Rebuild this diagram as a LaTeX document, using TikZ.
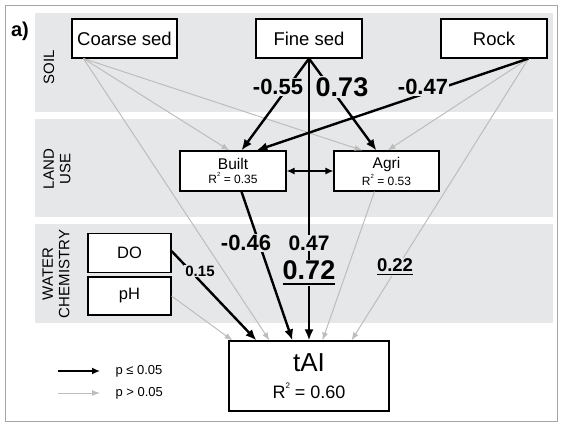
\documentclass[tikz,border=0pt]{standalone}
\usepackage{fontspec}
\setmainfont{Liberation Sans}
\usetikzlibrary{arrows.meta}
\definecolor{bandgray}{HTML}{E6E7E8}
\definecolor{nsgray}{HTML}{BDBDBD}
\definecolor{framegray}{HTML}{A6A6A6}
\newcommand{\fs}[1]{\fontsize{#1}{#1}\selectfont}
\newcommand{\rsq}[1]{R\raisebox{0.55em}{\fontsize{#1}{#1}\selectfont 2}}
\newsavebox{\ulbox}
\newcommand{\ulnum}[2][-4pt]{\sbox\ulbox{#2}\usebox\ulbox\llap{\rule[#1]{\wd\ulbox}{1.7pt}}}

\begin{document}
\begin{tikzpicture}[x=1pt, y=-1pt,
	box/.style={draw, line width=1.1pt, fill=white, inner sep=0pt, align=center},
	sig/.style={line width=2.4pt, -{Latex[length=11pt,width=9pt]}},
	nsig/.style={nsgray, line width=1pt, -{Latex[length=8pt,width=6pt]}},
	coef/.style={fill=bandgray, inner sep=1pt}]
	\useasboundingbox (0,0) rectangle (562,426);
	\draw[framegray, line width=1pt] (5,5) rectangle (557,421);
	
	% bands
	\fill[bandgray] (35,13) rectangle (553,112);
	\fill[bandgray] (35,119) rectangle (553,217);
	\fill[bandgray] (35,224) rectangle (553,323);
	\node[rotate=90, font=\fs{15}] (soil) at (49,67) {SOIL};
	\node[rotate=90, align=center, font=\fontsize{15}{16.5}\selectfont] (land) at (57,169) {LAND\\USE};
	\node[rotate=90, align=center, font=\fontsize{15}{16.5}\selectfont] (water) at (56,274) {WATER\\CHEMISTRY};
	\node[font=\bfseries\fs{20}] (tag) at (20,31) {a)};
	
	% boxes
	\node[box, minimum width=105pt, minimum height=39pt, font=\fs{18.5}] (coarse) at (124.5,38.5) {Coarse sed};
	\node[box, minimum width=106pt, minimum height=39pt, font=\fs{18.5}] (fine) at (309,38.5) {Fine sed};
	\node[box, minimum width=106pt, minimum height=39pt, font=\fs{18.5}] (rock) at (494,38.5) {Rock};
	\node[box, minimum width=106pt, minimum height=40pt] (built) at (233,171) {\fs{15.5}Built\\[2pt]\fs{12}\rsq{6} = 0.35};
	\node[box, minimum width=105pt, minimum height=40pt] (agri) at (386.5,171) {\fs{15.5}Agri\\[2pt]\fs{12}\rsq{6} = 0.53};
	\node[box, minimum width=83pt, minimum height=39pt, font=\fs{16.5}] (do) at (129.5,253) {DO};
	\node[box, minimum width=83pt, minimum height=38pt, font=\fs{16.5}] (ph) at (129.5,296) {pH};
	\node[box, minimum width=160pt, minimum height=70pt] (tai) at (309,376) {\fs{26}tAI\\[10pt]\fs{18}\rsq{8} = 0.60};
	
	% p > 0.05
	\draw[nsig] ([xshift=12pt]coarse.south west) -- ([xshift=50pt]built.north west);
	\draw[nsig] ([xshift=12pt]coarse.south west) -- ([xshift=29pt]agri.north west);
	\draw[nsig] ([xshift=12pt]coarse.south west) -- ([xshift=41pt]tai.north west);
	\draw[nsig] ([xshift=88pt]rock.south west) -- ([xshift=54pt]agri.north west);
	\draw[nsig] ([xshift=88pt]rock.south west) -- ([xshift=123pt]tai.north west);
	\draw[nsig] ([xshift=41pt]agri.south west) -- ([xshift=94pt]tai.north west);
	\draw[nsig] (ph.east) -- ([xshift=4pt]tai.north west);
	
	% p <= 0.05
	\draw[sig] (fine.south) -- ([xshift=62pt]built.north west);
	\draw[sig] (fine.south) -- ([xshift=43pt]agri.north west);
	\draw[sig] ([xshift=88pt]rock.south west) -- ([xshift=77pt]built.north west);
	\draw[sig] (fine.south) -- (tai.north);
	\draw[sig] ([xshift=62pt]built.south west) -- ([xshift=64pt]tai.north west);
	\draw[sig] ([yshift=2pt]do.east) -- ([xshift=28pt]tai.north west);
	\draw[line width=1.4pt, {Latex[length=8pt,width=7pt]}-{Latex[length=8pt,width=7pt]}] (built.east) -- (agri.west);
	
	% coefficients
	\node[coef, font=\bfseries\fs{22}] (c55) at (278,87) {-0.55};
	\node[coef, font=\bfseries\fs{27}] (c73) at (342,87) {0.73};
	\node[coef, font=\bfseries\fs{22}] (c47a) at (423,87) {-0.47};
	\node[coef, font=\bfseries\fs{22}] (c46) at (246,243) {-0.46};
	\node[coef, font=\bfseries\fs{21}] (c47b) at (309,243) {0.47};
	\node[coef, font=\bfseries\fs{27}] (c72) at (309,273) {\ulnum[-5pt]{0.72}};
	\node[coef, font=\bfseries\fs{18.5}] (c22) at (395,267) {\ulnum[-3.5pt]{0.22}};
	\node[coef, font=\bfseries\fs{15}] (c15) at (200,271) {0.15};
	
	% legend
	\coordinate (sigA) at (58,371);
	\coordinate (sigB) at (100,371);
	\coordinate (nsigA) at (58,393);
	\coordinate (nsigB) at (100,393);
	\draw[line width=1.5pt, -{Latex[length=8pt,width=7pt]}] (sigA) -- (sigB);
	\draw[nsig] (nsigA) -- (nsigB);
	\node[anchor=west, font=\fs{13}] (sigtxt) at (112,371) {p ≤ 0.05};
	\node[anchor=west, font=\fs{13}] (nsigtxt) at (112,393) {p > 0.05};
\end{tikzpicture}
\end{document}
